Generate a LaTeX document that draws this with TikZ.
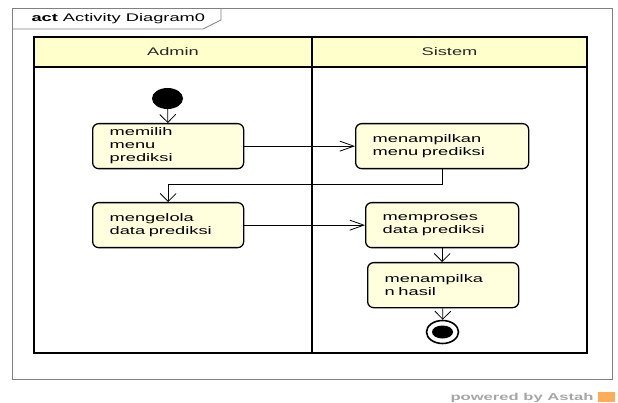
\documentclass[tikz,border=0pt]{standalone}
\usepackage{fontspec}
\setmainfont{Liberation Sans}[FakeStretch=1.66]
\usetikzlibrary{shapes.geometric,arrows.meta}
\definecolor{lanehead}{HTML}{FFFFCC}
\definecolor{actfill}{HTML}{FFFFDD}
\definecolor{framegray}{HTML}{808080}

\begin{document}
\begin{tikzpicture}[x=1pt,y=-1pt,
    action/.style={draw,line width=1.3pt,rounded corners=6pt,fill=actfill,anchor=north west,
      text width=117pt,inner xsep=17pt,minimum height=45pt,align=left,
      font=\fontsize{11}{13}\selectfont},
    startnode/.style={ellipse,fill=black,minimum width=31pt,minimum height=21pt,inner sep=0pt},
    endnode/.style={ellipse,draw,line width=1.6pt,minimum width=32pt,minimum height=23pt,inner sep=0pt},
    lane/.style={line width=2pt},
    lanetitle/.style={font=\fontsize{11}{13}\selectfont,text=black!85},
    flow/.style={line width=0.8pt},
    harrow/.style={flow,-{Straight Barb[length=14pt,width=10pt]}},
    varrow/.style={flow,-{Straight Barb[length=8pt,width=16pt]}}]
    \useasboundingbox (0,0) rectangle (618,403);
    \draw[framegray,line width=0.8pt] (12,8) rectangle (612,379);
    \draw[framegray,line width=0.8pt] (12,29) -- (203,29) -- (221,20) -- (221,8);
    \node[anchor=base west,font=\fontsize{11}{13}\selectfont] (title) at (28,22) {\textbf{act} Activity Diagram0};
    \fill[lanehead] (34,37) rectangle (587,67);
    \draw[lane] (34,37) rectangle (587,353);
    \draw[lane] (34,67) -- (587,67);
    \draw[lane] (312,37) -- (312,353);
    \node[lanetitle] (admin) at (173,52) {Admin};
    \node[lanetitle] (sistem) at (449.5,52) {Sistem};
    \node[startnode] (start) at (167.5,98.5) {};
    \node[action] (memilih) at (92,123) {memilih\\menu\\prediksi};
    \node[action,text width=139pt] (menampilkan) at (355,123) {menampilkan\\menu prediksi};
    \node[action] (mengelola) at (92,202) {mengelola\\data prediksi};
    \node[action,text width=119pt] (memproses) at (365,202) {memproses\\data prediksi};
    \node[action] (hasil) at (367,262) {menampilka\\n hasil};
    \node[endnode] (finish) at (442.5,332) {};
    \fill (finish.center) ellipse (10.5pt and 6.5pt);
    \draw[varrow] (start) -- (memilih);
    \draw[harrow] (memilih) -- (menampilkan);
    \draw[varrow] (menampilkan.south) -- ++(0,15) -| (mengelola.north);
    \draw[harrow] (mengelola) -- (memproses);
    \draw[varrow] (memproses.south) -- (memproses.south |- hasil.north);
    \draw[varrow] (hasil) -- (finish);
    \node[anchor=base east,text=black!35,font=\fontsize{10}{12}\selectfont\bfseries] (powered) at (597,400) {powered by Astah};
    \fill[orange!65] (598,392) rectangle (615,402);
\end{tikzpicture}
\end{document}
